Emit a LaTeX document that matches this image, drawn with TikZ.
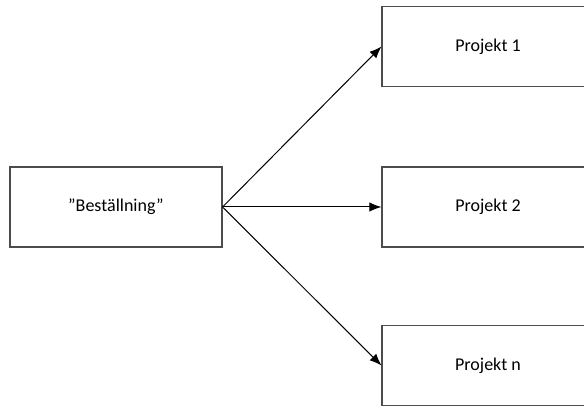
\documentclass[tikz,border=0pt]{standalone}
\usepackage{fontspec}
\setmainfont{Carlito}
\usepackage{tikz}
\usetikzlibrary{arrows.meta}

\tikzset{
    box/.style={rectangle, draw=black!70, line width=0.8pt, minimum width=159pt, minimum height=60pt, font=\fontsize{13.5}{15}\selectfont},
    pil/.style={-{Latex[length=9pt, width=7pt]}, line width=0.75pt}
}

\begin{document}
\begin{tikzpicture}[x=0.75pt, y=0.75pt]
                \useasboundingbox (0, 0) rectangle (584, 407);
                \node[box] (best) at (116, 200) {”Beställning”};
                \node[box] (p1) at (488, 360.5) {Projekt 1};
                \node[box] (p2) at (488, 200) {Projekt 2};
                \node[box] (pn) at (488, 41.5) {Projekt n};

                \draw[pil] (best.east) -- (p1.west);
                \draw[pil] (best.east) -- (p2.west);
                \draw[pil] (best.east) -- (pn.west);
            \end{tikzpicture}
\end{document}
